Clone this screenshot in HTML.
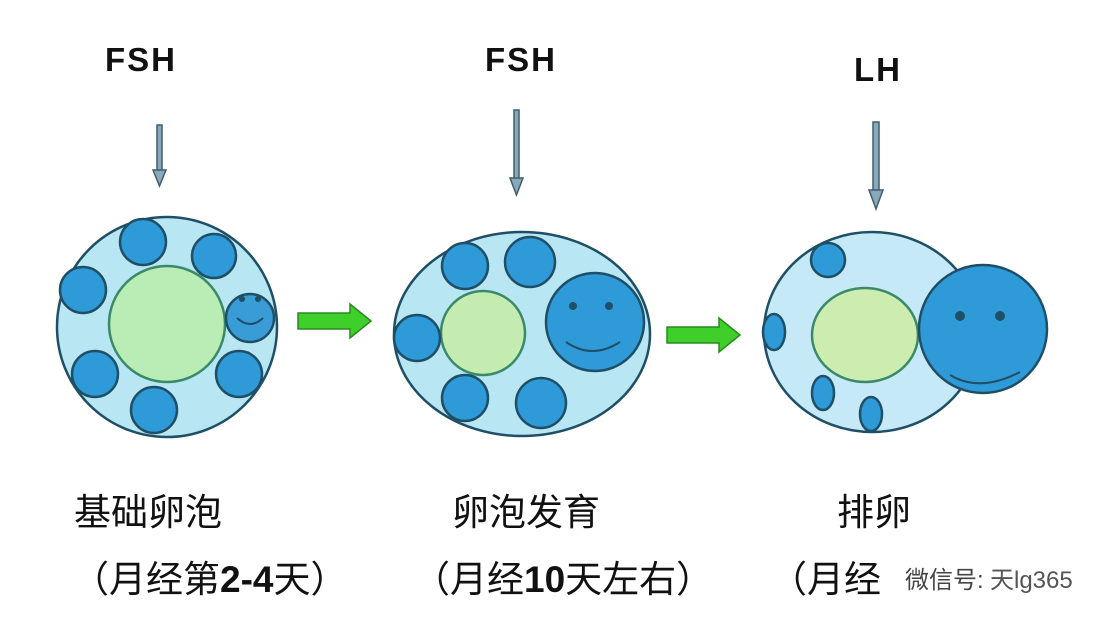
<!DOCTYPE html>
<html><head><meta charset="utf-8"><style>
html,body{margin:0;padding:0;background:#fff;width:1106px;height:626px;overflow:hidden}
svg{display:block}
.t{font-family:"Liberation Sans","Noto Sans CJK SC",sans-serif;fill:#111}
</style></head><body>
<svg width="1106" height="626" viewBox="0 0 1106 626">
<g class="t" font-weight="bold" font-size="33" letter-spacing="2">
<text x="141" y="71" text-anchor="middle">FSH</text>
<text x="521" y="71" text-anchor="middle">FSH</text>
<text x="878" y="81" text-anchor="middle">LH</text>
</g>
<g fill="#8aa9b8" stroke="#3f5f6e" stroke-width="1.5">
<rect x="157" y="125" width="5" height="50"/><polygon points="153,170 166,170 159.5,186"/>
<rect x="514" y="110" width="5" height="73"/><polygon points="510,178 523,178 516.5,195"/>
<rect x="873" y="122" width="6" height="72"/><polygon points="869,190 883,190 876,209"/>
</g>
<g fill="#3ecf2a" stroke="#2a8a1f" stroke-width="1.5">
<polygon points="298,313 350,313 350,304 371,321 350,338 350,329 298,329"/>
<polygon points="667,327 719,327 719,318 740,335 719,352 719,343 667,343"/>
</g>
<g stroke="#1f4f66" stroke-width="2.5">
<circle cx="167" cy="327" r="110" fill="#b8e6f3"/>
<circle cx="167" cy="324" r="58" fill="#b9edb5" stroke="#3a8a6a"/>
<g fill="#2f9ad8">
<circle cx="143" cy="242" r="23"/><circle cx="214" cy="256" r="22"/>
<circle cx="83" cy="290" r="23"/><circle cx="250" cy="318" r="24" fill="#3a9cd6"/>
<circle cx="95" cy="374" r="23"/><circle cx="239" cy="374" r="23"/>
<circle cx="154" cy="410" r="23"/>
</g>
<ellipse cx="522" cy="334" rx="128" ry="102" fill="#b8e6f3"/>
<circle cx="483" cy="333" r="42" fill="#c4ecb0" stroke="#3a8a6a"/>
<g fill="#2f9ad8">
<circle cx="465" cy="266" r="23"/><circle cx="530" cy="262" r="25"/>
<circle cx="417" cy="338" r="23"/><circle cx="465" cy="398" r="23"/>
<circle cx="541" cy="403" r="25"/>
<circle cx="595" cy="322" r="49"/>
</g>
<ellipse cx="872" cy="332" rx="108" ry="100" fill="#c5e9f6"/>
<ellipse cx="865" cy="335" rx="53" ry="47" fill="#cdedb0" stroke="#3a8a6a"/>
<g fill="#2f9ad8">
<circle cx="828" cy="260" r="17"/>
<ellipse cx="774" cy="332" rx="11" ry="18"/>
<ellipse cx="823" cy="393" rx="11" ry="17"/>
<ellipse cx="871" cy="414" rx="11" ry="17"/>
<circle cx="983" cy="329" r="64"/>
</g>
</g>
<g fill="#1f4f66">
<circle cx="242" cy="299" r="3"/><circle cx="258" cy="299" r="3"/>
<circle cx="573" cy="306" r="4"/><circle cx="609" cy="306" r="4"/>
<circle cx="960" cy="316" r="5"/><circle cx="1000" cy="316" r="5"/>
</g>
<g fill="none" stroke="#1f4f66" stroke-width="2">
<path d="M237,318 Q250,330 263,318"/>
<path d="M566,342 Q592,360 620,342"/>
<path d="M950,375 Q980,393 1020,372"/>
</g>
<g class="t" font-size="37">
<text x="74" y="525">基础卵泡</text>
<text x="452" y="525">卵泡发育</text>
<text x="837" y="525">排卵</text>
<text x="72" y="592">（月经第<tspan font-weight="bold">2-4</tspan>天）</text>
<text x="413" y="592">（月经<tspan font-weight="bold">10</tspan>天左右）</text>
<text x="770" y="592">（月经</text>
<text x="905" y="588" font-size="24" fill="#444">微信号:</text>
<text x="990" y="588" font-size="24" fill="#555">天lg365</text>
</g>
</svg>
</body></html>
